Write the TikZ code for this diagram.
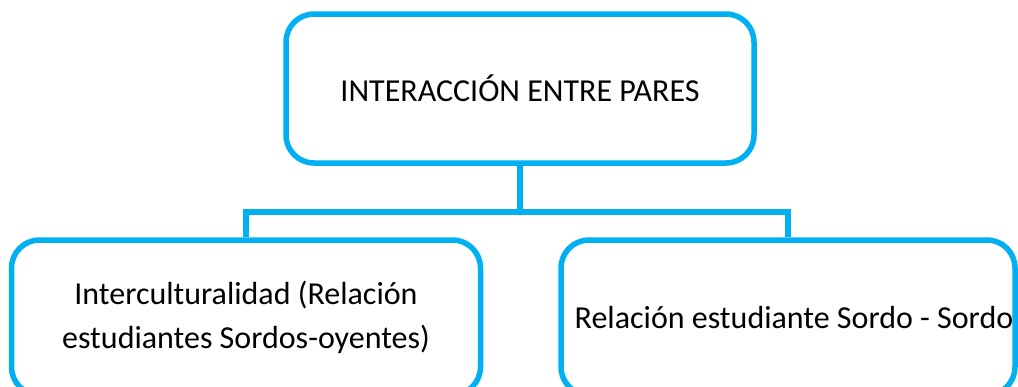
\documentclass[tikz,border=0pt]{standalone}
\usepackage{fontspec}
\setmainfont{Carlito}
\usetikzlibrary{positioning, calc}
\definecolor{cyanline}{HTML}{00B0F0}
\tikzset{
  box/.style={rectangle, draw=cyanline, line width=5.5pt, rounded corners=28pt,
    fill=white, align=center, inner sep=0pt, font=\fontsize{32}{44}\selectfont},
  link/.style={draw=cyanline, line width=5.5pt},
}

\begin{document}
\begin{tikzpicture}[x=1pt, y=-1pt]
\useasboundingbox (0,0) rectangle (1018,386);
\clip (0,0) rectangle (1018,386);

\node[box, minimum width=468pt, minimum height=149pt] (pares) at (520,88.5) {INTERACCIÓN ENTRE PARES};
\node[box, minimum width=469pt, minimum height=155pt] (inter) at (246,317.5)
  {Interculturalidad (Relación\\estudiantes Sordos-oyentes)};
\node[box, minimum width=454pt, minimum height=155pt] (sordo) at (788,317.5)
  {\hspace*{12pt}Relación estudiante Sordo - Sordo};

\coordinate (bus) at (pares.south |- 0,212);
\draw[link] (pares.south) -- (bus);
\draw[link] (inter.north) |- (bus) -| (sordo.north);
\end{tikzpicture}
\end{document}
